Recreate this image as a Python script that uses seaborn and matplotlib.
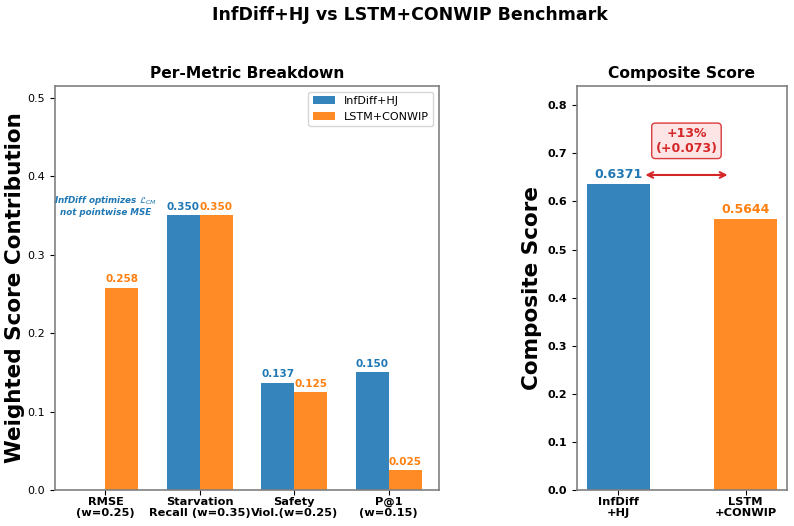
import matplotlib
matplotlib.use("Agg")
import matplotlib.pyplot as plt
import seaborn as sns
import pandas as pd

sns.set_style("white", rc={"text.color": "black", "axes.labelcolor": "black",
                           "xtick.color": "black", "ytick.color": "black"})
plt.rcParams['font.family'] = ['DejaVu Sans']

metrics = ["RMSE\n(w=0.25)", "Starvation\nRecall (w=0.35)", "Safety\nViol.(w=0.25)", "P@1\n(w=0.15)"]
models = ["InfDiff+HJ", "LSTM+CONWIP"]
infdiff_vals = [0.0, 0.350, 0.137, 0.150]
lstm_vals = [0.258, 0.350, 0.125, 0.025]
composite_labels = ["InfDiff\n+HJ", "LSTM\n+CONWIP"]
composite_vals = [0.6371, 0.5644]

BLUE = "#1f77b4"
ORANGE = "#ff7f0e"
RED = "#d62728"

df = pd.DataFrame({
    "metric": metrics * 2,
    "model": [models[0]] * 4 + [models[1]] * 4,
    "value": infdiff_vals + lstm_vals,
})
dfc = pd.DataFrame({"model": composite_labels, "value": composite_vals})

fig = plt.figure(figsize=(7.94, 5.26), dpi=100)
ax1 = fig.add_axes([55/794, 1-490/526, (439-55)/794, (490-86)/526])
ax2 = fig.add_axes([577/794, 1-490/526, (787-577)/794, (490-86)/526])

sns.barplot(data=df, x="metric", y="value", hue="model", ax=ax1,
            palette=[BLUE, ORANGE], saturation=1, width=0.7, alpha=0.9,
            errorbar=None, linewidth=0)
ax1.set_xlim(-0.535, 3.535)
ax1.set_ylim(0, 0.515)
ax1.set_xlabel("")
ax1.set_ylabel("Weighted Score Contribution", fontsize=15.5, fontweight="bold", labelpad=2)
ax1.set_title("Per-Metric Breakdown", fontsize=11.2, fontweight="bold")
ax1.legend(loc="upper right", fontsize=8, frameon=True)

for i, (a, b) in enumerate(zip(infdiff_vals, lstm_vals)):
    if a > 0:
        ax1.text(i - 0.175, a + 0.004, f"{a:.3f}", ha="center", va="bottom",
                 fontsize=7.5, fontweight="bold", color=BLUE)
    ax1.text(i + 0.175, b + 0.004, f"{b:.3f}", ha="center", va="bottom",
             fontsize=7.5, fontweight="bold", color=ORANGE)
ax1.text(0.0, 0.363, "InfDiff optimizes $\\mathcal{L}_{CM}$\nnot pointwise MSE",
         ha="center", va="center", fontsize=6.3, fontweight="bold",
         fontstyle="italic", color=BLUE)

sns.barplot(data=dfc, x="model", y="value", hue="model", ax=ax2, dodge=False,
            palette=[BLUE, ORANGE], saturation=1, width=0.5, alpha=0.9,
            errorbar=None, linewidth=0, legend=False)
ax2.set_xlim(-0.325, 1.325)
ax2.set_ylim(0, 0.84)
ax2.set_xlabel("")
ax2.set_ylabel("Composite Score", fontsize=15.5, fontweight="bold")
ax2.set_title("Composite Score", fontsize=11.2, fontweight="bold")
for i, v in enumerate(composite_vals):
    ax2.text(i, v + 0.006, f"{v:.4f}", ha="center", va="bottom",
             fontsize=9, fontweight="bold", color=[BLUE, ORANGE][i])
ax2.annotate("", xy=(0.88, 0.655), xytext=(0.19, 0.655),
             arrowprops=dict(arrowstyle="<->", color=RED, lw=1.5))
diff = composite_vals[0] - composite_vals[1]
pct = diff / composite_vals[1] * 100
ax2.text(0.535, 0.726, f"+{pct:.0f}%\n(+{diff:.3f})", ha="center", va="center",
         fontsize=9, fontweight="bold", color=RED,
         bbox=dict(boxstyle="round,pad=0.3", facecolor="#fde3e3", edgecolor=RED, alpha=0.9))

for ax in (ax1, ax2):
    for sp in ax.spines.values():
        sp.set_color("#808080")
        sp.set_linewidth(1.2)
    ax.tick_params(axis="y", labelsize=8, left=True, length=3.5)
    ax.tick_params(axis="x", labelsize=8.2, bottom=True, length=3.5, pad=1.5)
    for lab in ax.get_xticklabels():
        lab.set_fontweight("bold")
        lab.set_linespacing(1.1)

ax1.set_yticks([0.0, 0.1, 0.2, 0.3, 0.4, 0.5])
ax2.set_yticks([0.0, 0.1, 0.2, 0.3, 0.4, 0.5, 0.6, 0.7, 0.8])
for lab in ax2.get_yticklabels():
    lab.set_fontweight("bold")

fig.suptitle("InfDiff+HJ vs LSTM+CONWIP Benchmark", fontsize=12.5, fontweight="bold",
             x=0.516, y=0.988)
fig.savefig("out.png", dpi=100)
